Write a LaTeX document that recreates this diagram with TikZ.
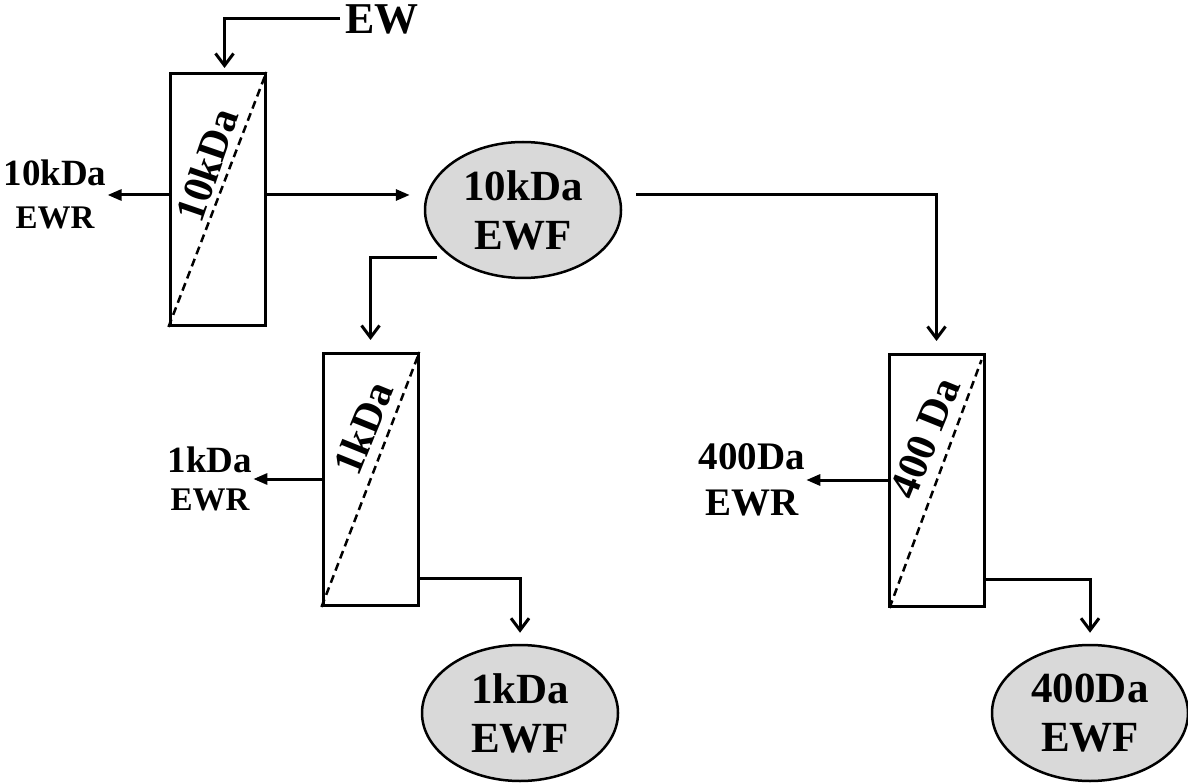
\documentclass[tikz,border=0pt]{standalone}
\usepackage{fontspec}
\setmainfont{Liberation Serif}
\usetikzlibrary{shapes.geometric, arrows.meta}

\begin{document}
\begin{tikzpicture}[x=1pt, y=-1pt,
    filtbox/.style={draw, line width=3pt, minimum width=95pt, minimum height=252pt, inner sep=0pt},
    ewf/.style={ellipse, draw, line width=2.5pt, fill=gray!30, minimum width=196pt, minimum height=136pt,
        inner sep=0pt, align=center, font=\fontsize{43}{49}\selectfont\bfseries},
    ewr/.style={align=center, inner sep=1pt},
    cut/.style={font=\fontsize{42}{42}\selectfont\bfseries, inner sep=0pt},
    membrane/.style={line width=2.5pt, dash pattern=on 8pt off 5pt},
    flow/.style={line width=3pt, -{Triangle[length=14pt, width=11pt]}},
    drop/.style={line width=3pt, -{Straight Barb[length=12pt, width=18pt]}}]
    \useasboundingbox (0,0) rectangle (1188,783);

    \node[filtbox] (f10) at (217.5,199.5) {};
    \node[filtbox] (f1) at (370.5,479.5) {};
    \node[filtbox] (f400) at (936.5,480.5) {};
    \draw[membrane] (f10.south west) -- (f10.north east);
    \draw[membrane] (f1.south west) -- (f1.north east);
    \draw[membrane] ([xshift=2pt]f400.south west) -- ([xshift=-4pt,yshift=-7pt]f400.north east);
    \node[cut, rotate=71] (c10) at (207,165) {10kDa};
    \node[cut, rotate=68] (c1) at (363,428) {1kDa};
    \node[cut, rotate=68] (c400) at (925,438) {400 Da};

    \node[ewf] (e10) at (523,210) {10kDa\\EWF};
    \node[ewf] (e1) at (520,713) {1kDa\\EWF};
    \node[ewf] (e400) at (1090,713) {400Da\\EWF};

    \node[inner sep=0pt, font=\fontsize{44}{44}\selectfont\bfseries] (ew) at (382,19) {EW};
    \node[ewr, font=\fontsize{37}{43}\selectfont\bfseries] (r10) at (55,194)
        {10kDa\\{\fontsize{33}{43}\selectfont EWR}};
    \node[ewr, font=\fontsize{37}{38}\selectfont\bfseries] (r1) at (210,479)
        {1kDa\\{\fontsize{33}{38}\selectfont EWR}};
    \node[ewr, font=\fontsize{39}{46}\selectfont\bfseries] (r400) at (752,480) {400Da\\EWR};

    \coordinate (mid) at (0,195);
    \coordinate (tap) at (437,258);
    \draw[drop, shorten <=5pt, shorten >=4pt] (ew.west) -| ([xshift=7pt]f10.north);
    \draw[flow, shorten >=14pt] (f10.east |- mid) -- (e10.west |- mid);
    \draw[flow] (f10.west |- mid) -- (r10.east |- mid);
    \draw[drop, shorten <=14pt, shorten >=12pt] (e10.east |- mid) -| (f400.north);
    \draw[drop, shorten >=12pt] (tap) -| (f1.north);
    \draw[flow] (r1.east -| f1.west) -- (r1.east);
    \draw[flow] (r400.east -| f400.west) -- (r400.east);
    \draw[drop, shorten >=11pt] ([yshift=29pt]f1.south east) -| (e1.north);
    \draw[drop, shorten >=11pt] ([yshift=29pt]f400.south east) -| (e400.north);
\end{tikzpicture}
\end{document}
